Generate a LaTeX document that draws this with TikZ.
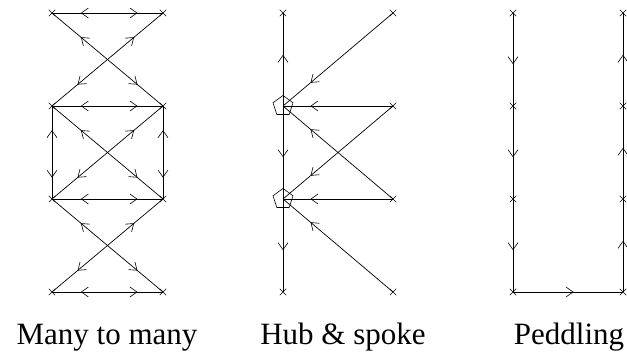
\documentclass[tikz,border=0pt]{standalone}
\usepackage{fontspec}
\setmainfont{Liberation Serif}
\usetikzlibrary{arrows.meta,positioning,shapes.geometric,shapes.misc,decorations.markings}
\tikzset{
  site/.style={cross out,draw,line width=0.5pt,minimum size=6pt,inner sep=0pt},
  hub/.style={regular polygon,regular polygon sides=5,draw,line width=0.6pt,
              minimum size=21pt,inner sep=0pt},
  route/.style={line width=0.7pt},
  barb/.tip={Straight Barb[length=7pt,width=10pt,line width=0.6pt]},
  twoway/.style={route,postaction={decorate},decoration={markings,
      mark=at position 0.26 with {\arrowreversed{barb}},
      mark=at position 0.77 with {\arrow{barb}}}},
  oneway/.style={route,postaction={decorate},decoration={markings,
      mark=at position #1 with {\arrow{barb}}}},
  oneway/.default=0.55,
  caption/.style={font=\fontsize{31}{36}\selectfont,anchor=base,inner sep=0pt},
}

\begin{document}
\begin{tikzpicture}[x=1pt,y=-1pt]
  \useasboundingbox (0,0) rectangle (627,352);
  % many to many
  \foreach \r/\y in {0/13,1/106,2/199,3/292}{
    \node[site] (mL\r) at (52,\y) {};
    \node[site] (mR\r) at (163,\y) {};
  }
  \foreach \r in {0,...,3}
    \draw[twoway] (mL\r.center) -- (mR\r.center);
  \foreach \r/\s in {0/1,1/2,2/3}{
    \draw[twoway] (mL\r.center) -- (mR\s.center);
    \draw[twoway] (mR\r.center) -- (mL\s.center);
  }
  \draw[twoway] (mL1.center) -- (mL2.center);
  \draw[twoway] (mR1.center) -- (mR2.center);
  % hub & spoke
  \node[site] (hT) at (283,13) {};
  \node[hub] (h1) at (283,106) {};
  \node[hub] (h2) at (283,199) {};
  \node[site] (hB) at (283,292) {};
  \foreach \r/\y in {0/13,1/106,2/199,3/292}
    \node[site] (sR\r) at (393,\y) {};
  \draw[oneway] (h1.center) -- (hT.center);
  \draw[oneway] (h1.center) -- (h2.center);
  \draw[oneway] (h2.center) -- (hB.center);
  \foreach \r in {0,1,2}
    \draw[oneway=0.75] (sR\r.center) -- (h1.center);
  \foreach \r in {1,2,3}
    \draw[oneway=0.75] (sR\r.center) -- (h2.center);
  % peddling
  \foreach \r/\y in {0/13,1/106,2/199,3/292}{
    \node[site] (pL\r) at (513,\y) {};
    \node[site] (pR\r) at (623,\y) {};
  }
  \foreach \r/\s in {0/1,1/2,2/3}{
    \draw[oneway] (pL\r.center) -- (pL\s.center);
    \draw[oneway] (pR\s.center) -- (pR\r.center);
  }
  \draw[oneway] (pL3.center) -- (pR3.center);
  % captions
  \node[caption] (capMany) at (107,345) {Many to many};
  \node[caption] (capHub) at (343,345) {Hub \& spoke};
  \node[caption] (capPed) at (569,345) {Peddling};
\end{tikzpicture}
\end{document}
